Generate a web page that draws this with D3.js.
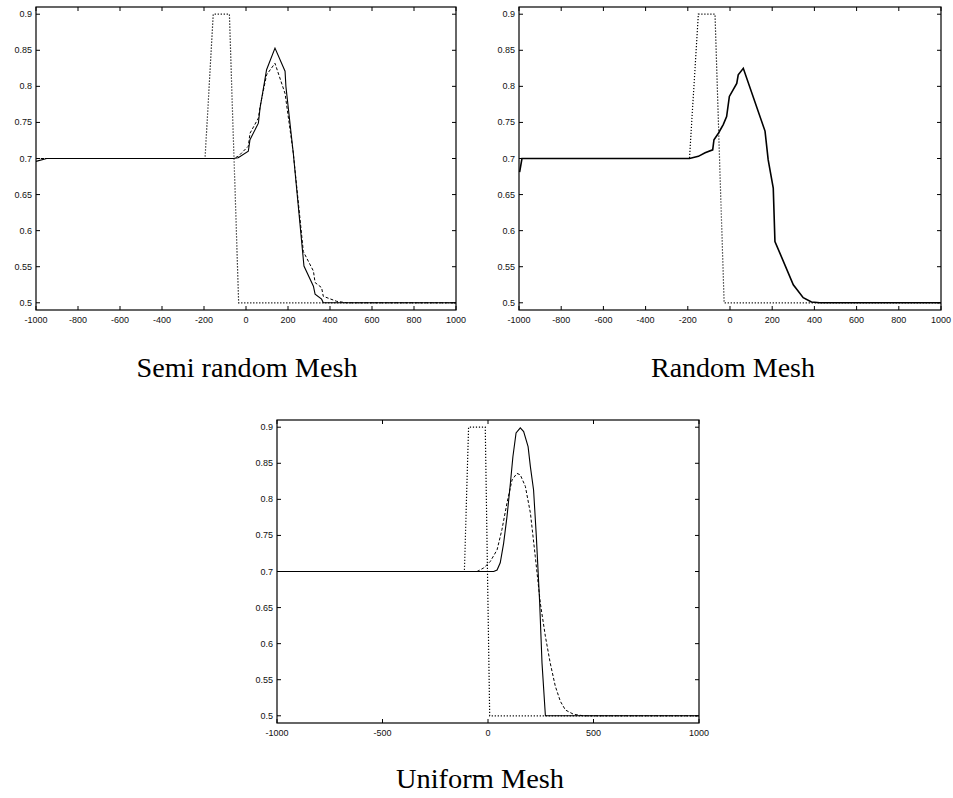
<!DOCTYPE html>
<html>
<head>
<meta charset="utf-8">
<script src="https://cdn.jsdelivr.net/npm/d3@7"></script>
<style>
  body { margin: 0; background: #fff; }
  svg { display: block; }
</style>
</head>
<body>
<svg width="953" height="798"></svg>
<script>
let svg = d3.select("svg");

// tick labels
let xTicksFine = [-1000, -800, -600, -400, -200, 0, 200, 400, 600, 800, 1000];
let xTicksCoarse = [-1000, -500, 0, 500, 1000];
let yTicks = [0.5, 0.55, 0.6, 0.65, 0.7, 0.75, 0.8, 0.85, 0.9];
let yLabels = ["0.5", "0.55", "0.6", "0.65", "0.7", "0.75", "0.8", "0.85", "0.9"];

// semi random mesh
let semiSolid = [[-1000, 0.696], [-949, 0.7], [-60, 0.7], [-37, 0.701], [11, 0.71], [19, 0.726],
    [59, 0.749], [67, 0.77], [98, 0.823], [138, 0.853], [186, 0.821], [190, 0.8], [225, 0.708],
    [276, 0.551], [321, 0.523], [329, 0.512], [360, 0.505], [368, 0.5], [1000, 0.5]];
let semiDashed = [[-1000, 0.7], [-60, 0.7], [-37, 0.703], [11, 0.717], [19, 0.735], [59, 0.756],
    [67, 0.772], [98, 0.816], [138, 0.832], [186, 0.79], [225, 0.708], [273, 0.571], [321, 0.544],
    [329, 0.528], [360, 0.521], [368, 0.509], [432, 0.502], [479, 0.5], [1000, 0.5]];
let semiDotted = [[-1000, 0.7], [-195, 0.7], [-156, 0.9], [-79, 0.9], [-35, 0.5], [1000, 0.5]];

// random mesh
let randSolid = [[-997, 0.681], [-986, 0.7], [-192, 0.7], [-150, 0.703], [-118, 0.708], [-82, 0.712],
    [-76, 0.726], [-55, 0.735], [-32, 0.747], [-16, 0.758], [-3, 0.786], [32, 0.804], [39, 0.816],
    [63, 0.825], [166, 0.738], [181, 0.698], [205, 0.659], [213, 0.585], [300, 0.525], [347, 0.507],
    [386, 0.501], [426, 0.5], [1000, 0.5]];
let randDotted = [[-1000, 0.7], [-192, 0.7], [-150, 0.9], [-71, 0.9], [-28, 0.5], [1000, 0.5]];

// uniform mesh
let uniSolid = [[-1000, 0.7], [27, 0.7], [43, 0.702], [58, 0.712], [74, 0.739], [90, 0.776],
    [106, 0.822], [118, 0.859], [133, 0.892], [153, 0.899], [169, 0.894], [190, 0.873], [201, 0.845],
    [216, 0.813], [229, 0.749], [245, 0.656], [256, 0.573], [272, 0.5], [1000, 0.5]];
let uniDashed = [[-1000, 0.7], [-52, 0.7], [-20, 0.705], [11, 0.714], [43, 0.73], [66, 0.758],
    [90, 0.795], [114, 0.827], [137, 0.836], [153, 0.834], [177, 0.818], [201, 0.781], [224, 0.721],
    [248, 0.656], [272, 0.61], [295, 0.573], [319, 0.541], [343, 0.52], [367, 0.508], [406, 0.502],
    [453, 0.5], [1000, 0.5]];
let uniDotted = [[-1000, 0.7], [-112, 0.7], [-92, 0.9], [-13, 0.9], [8, 0.5], [1000, 0.5]];

let panels = [
    { title: "Semi random Mesh", left: 36, right: 456, top: 7, bottom: 310, xt: xTicksFine,
      capX: 247, capY: 377, capW: 221,
      series: [{ d: semiDotted, dash: "1.2,1.8", w: 1.2 }, { d: semiDashed, dash: "3,2", w: 1 }, { d: semiSolid, dash: null, w: 1.1 }] },
    { title: "Random Mesh", left: 519, right: 941, top: 7, bottom: 310, xt: xTicksFine,
      capX: 733, capY: 377, capW: 164,
      series: [{ d: randDotted, dash: "1.2,1.8", w: 1.2 }, { d: randSolid, dash: null, w: 1.6 }] },
    { title: "Uniform Mesh", left: 277, right: 699, top: 420, bottom: 723, xt: xTicksCoarse,
      capX: 480, capY: 788, capW: 168,
      series: [{ d: uniDotted, dash: "1.2,1.8", w: 1.2 }, { d: uniDashed, dash: "3,2", w: 1 }, { d: uniSolid, dash: null, w: 1.1 }] }
];

let tickLen = 4;
let tickFont = "9px 'Liberation Sans', Arial, sans-serif";

panels.forEach(p => drawPanel(p));

function drawPanel(p) {
    let x = d3.scaleLinear().domain([-1000, 1000]).range([p.left, p.right]);
    let y = d3.scaleLinear().domain([0.49, 0.91]).range([p.bottom, p.top]);
    let g = svg.append("g");

    // x ticks, bottom and top, inward
    p.xt.forEach(t => {
        g.append("line").attr("x1", x(t)).attr("x2", x(t))
            .attr("y1", p.bottom).attr("y2", p.bottom - tickLen)
            .attr("stroke", "#000").attr("stroke-width", 1);
        g.append("line").attr("x1", x(t)).attr("x2", x(t))
            .attr("y1", p.top).attr("y2", p.top + tickLen)
            .attr("stroke", "#000").attr("stroke-width", 1);
        g.append("text").attr("x", x(t)).attr("y", p.bottom + 13)
            .attr("text-anchor", "middle").style("font", tickFont).attr("fill", "#111")
            .text(t);
    });
    yTicks.forEach((t, i) => {
        g.append("line").attr("x1", p.left).attr("x2", p.left + tickLen)
            .attr("y1", y(t)).attr("y2", y(t))
            .attr("stroke", "#000").attr("stroke-width", 1);
        g.append("line").attr("x1", p.right).attr("x2", p.right - tickLen)
            .attr("y1", y(t)).attr("y2", y(t))
            .attr("stroke", "#000").attr("stroke-width", 1);
        g.append("text").attr("x", p.left - 4).attr("y", y(t) + 3)
            .attr("text-anchor", "end").style("font", tickFont).attr("fill", "#111")
            .text(yLabels[i]);
    });

    let line = d3.line().x(d => x(d[0])).y(d => y(d[1]));
    p.series.forEach(s => {
        g.append("path").datum(s.d)
            .attr("d", line)
            .attr("fill", "none")
            .attr("stroke", "#000")
            .attr("stroke-width", s.w)
            .attr("stroke-dasharray", s.dash);
    });

    // frame
    g.append("rect").attr("x", p.left).attr("y", p.top)
        .attr("width", p.right - p.left).attr("height", p.bottom - p.top)
        .attr("fill", "none").attr("stroke", "#000").attr("stroke-width", 1.2);

    svg.append("text").attr("x", p.capX).attr("y", p.capY)
        .attr("text-anchor", "middle")
        .attr("textLength", p.capW).attr("lengthAdjust", "spacingAndGlyphs")
        .style("font", "27px 'Liberation Serif', 'DejaVu Serif', serif")
        .text(p.title);
}
</script>
</body>
</html>
